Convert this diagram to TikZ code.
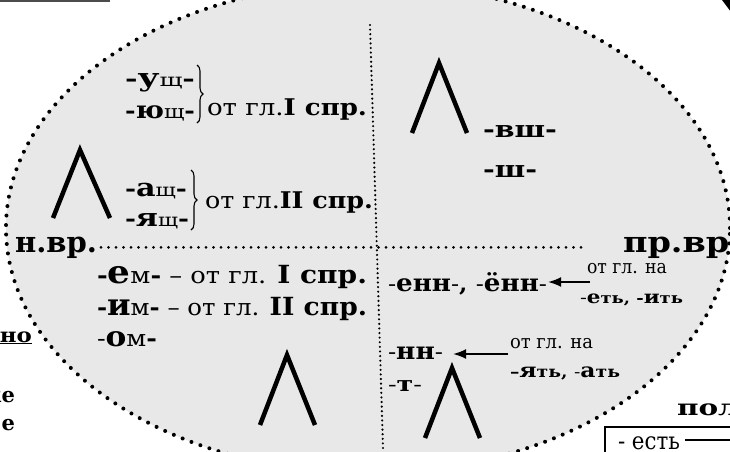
\documentclass[tikz,border=0pt]{standalone}
\usepackage{fontspec}
\usepackage{graphicx}
\setmainfont{DejaVu Serif}
\usetikzlibrary{decorations.pathreplacing,arrows.meta}
\newcommand\fsz[1]{\fontsize{#1}{#1}\selectfont}
\newcommand\Bb[2]{{\fsz{#1}\bfseries #2}}
\newcommand\Rr[2]{{\fsz{#1}\mdseries #2}}
\newcommand\fitw[2]{\resizebox{#1pt}{\height}{#2}}
\definecolor{ellfill}{HTML}{E8E8E8}
\begin{document}
\begin{tikzpicture}[x=1pt,y=-1pt,
  txt/.style={inner sep=0pt,outer sep=0pt,anchor=base west},
  lam/.style={line width=4.5pt,line join=miter},
  bigdots/.style={line width=4pt,line cap=round,dash pattern=on 0pt off 9.5pt},
  smalldots/.style={line width=2.4pt,line cap=round,dash pattern=on 0pt off 4.6pt},
  middots/.style={line width=3pt,line cap=round,dash pattern=on 0pt off 7.5pt},
  brc/.style={decorate,decoration={brace,amplitude=6pt},line width=1.1pt},
  arr/.style={-{Latex[length=13pt,width=10pt]},line width=2pt}]
\useasboundingbox (0,0) rectangle (730,451);
\begin{scope}
\clip (0,0) rectangle (730,451);
\fill[ellfill] (368,228) ellipse [x radius=362pt,y radius=245pt];
\draw[bigdots] (368,228) ellipse [x radius=362pt,y radius=245pt];
% dotted axes
\coordinate (vt) at (370,25);
\coordinate (vb) at (383,448);
\draw[smalldots] (vt) -- (vb);
\node[txt] (nvr) at (15,252) {\fitw{82}{\Bb{29}{н.вр.}}};
\node[txt] (prvr) at (623,252) {\fitw{118}{\Bb{29}{пр.вр.}}};
\draw[middots] ([xshift=4pt]nvr.east) -- ([xshift=-35pt]prvr.west);
% top left
\node[txt] (ush) at (125,86) {\fitw{70}{\Bb{22}{-}\Bb{25}{у}\Rr{18}{щ}\Bb{22}{-}}};
\node[txt] (yush) at (125,118) {\fitw{70}{\Bb{22}{-}\Bb{24}{ю}\Rr{19}{щ}\Bb{22}{-}}};
\coordinate (b1t) at (197,65);
\coordinate (b1b) at (197,123);
\draw[brc] (b1t) -- (b1b);
\node[txt] (k1) at (207,115) {\fitw{160}{\Rr{23}{от гл.}\Bb{23}{I спр.}}};
\node[txt] (ash) at (125,196) {\fitw{62}{\Bb{22}{-}\Bb{25}{а}\Rr{18}{щ}\Bb{22}{-}}};
\node[txt] (yash) at (125,226) {\fitw{64}{\Bb{22}{-}\Bb{25}{я}\Rr{18}{щ}\Bb{22}{-}}};
\coordinate (b2t) at (191,170);
\coordinate (b2b) at (191,230);
\draw[brc] (b2t) -- (b2b);
\node[txt] (k2) at (205,208) {\fitw{168}{\Rr{23}{от гл.}\Bb{23}{II спр.}}};
\draw[lam] (53,218) -- (80,150) -- (110,218);
% top right
\draw[lam] (412,133) -- (439,63) -- (467,133);
\node[txt] (vsh) at (483,137) {\fitw{74}{\Bb{23}{-вш-}}};
\node[txt] (sh) at (483,177) {\fitw{54}{\Bb{23}{-ш-}}};
% bottom left
\node[txt] (em) at (97,283) {\fitw{270}{\Bb{23}{-}\Bb{32}{е}\Rr{23}{м}\Bb{23}{-}\Rr{23}{ – от гл. }\Bb{25}{I спр.}}};
\node[txt] (im) at (97,315) {\fitw{270}{\Bb{23}{-}\Bb{30}{и}\Rr{23}{м}\Bb{23}{-}\Rr{23}{ – от гл. }\Bb{25}{II спр.}}};
\node[txt] (om) at (97,346) {\fitw{60}{\Rr{23}{-}\Bb{28}{о}\Rr{23}{м}\Bb{23}{-}}};
\draw[lam] (260,425) -- (287,355) -- (315,425);
% bottom right
\node[txt] (enn) at (388,291) {\fitw{159}{\Rr{22}{-}\Bb{24}{енн}\Rr{22}{-}\Bb{22}{, }\Rr{22}{-}\Bb{24}{ённ}\Rr{22}{-}}};
\node[txt] (na1) at (587,273) {\fitw{80}{\Rr{19}{от гл. на}}};
\node[txt] (et) at (580,303) {\fitw{103}{\Rr{17}{-}\Bb{18}{е}\Bb{15}{ть, -}\Bb{18}{и}\Bb{15}{ть}}};
\coordinate (a1s) at (590,282);
\draw[arr] (a1s) -- ([xshift=1pt]enn.east |- a1s);
\node[txt] (na2) at (510,348) {\fitw{83}{\Rr{19}{от гл. на}}};
\node[txt] (nn) at (388,359) {\fitw{55}{\Rr{22}{-}\Bb{24}{нн}\Rr{22}{-}}};
\coordinate (a2s) at (508,354);
\draw[arr] (a2s) -- ([xshift=10pt]nn.east |- a2s);
\node[txt] (yat) at (510,377) {\fitw{110}{\Bb{16}{–}\Bb{20}{я}\Bb{16}{ть, }\Rr{16}{-}\Bb{20}{а}\Bb{16}{ть}}};
\node[txt] (t) at (388,391) {\fitw{34}{\Rr{20}{-}\Bb{21}{т}\Rr{20}{-}}};
\draw[lam] (425,438) -- (452,368) -- (480,438);
% outside fragments
\node[txt] (pol) at (677,415) {\fitw{62}{\Bb{22}{пол}}};
\coordinate (bx1) at (605,455);
\coordinate (bx2) at (605,427);
\coordinate (bx3) at (735,427);
\draw[line width=2pt] (bx1) -- (bx2) -- (bx3);
\node[txt] (est) at (618,449) {\fitw{62}{\Rr{24}{- есть}}};
\coordinate (ln) at (735,440);
\draw[line width=2.5pt] ([xshift=5pt]est.east |- ln) -- (ln);
\node[txt] (no) at (0,342) {\fitw{32}{\Bb{20}{\underline{но}}}};
\node[txt,anchor=base east] (e1) at (15,402) {\Bb{21}{ке}};
\node[txt,anchor=base east] (e2) at (15,430) {\Bb{21}{е}};
\coordinate (tl1) at (0,1);
\coordinate (tl2) at (110,1);
\draw[line width=2pt,gray!60!black] (tl1) -- (tl2);
\fill (722,0) -- (731,0) -- (731,12) -- cycle;
\end{scope}
\end{tikzpicture}
\end{document}
